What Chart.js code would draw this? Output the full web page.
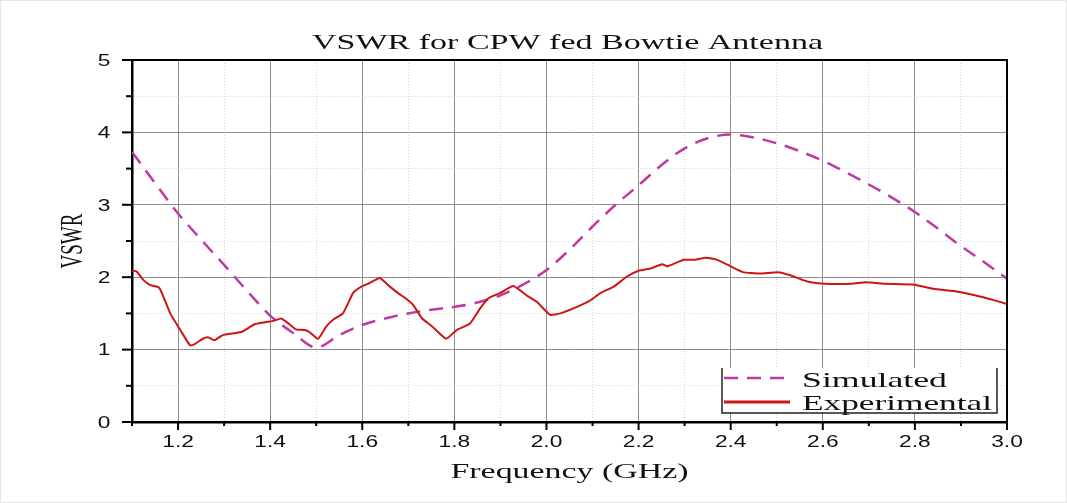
<!DOCTYPE html>
<html>
<head>
<meta charset="utf-8">
<script src="https://cdn.jsdelivr.net/npm/chart.js@4.4.0/dist/chart.umd.min.js"></script>
<style>
  html, body { margin: 0; padding: 0; background: #fff; }
  #wrap { width: 1067px; height: 503px; position: relative; }
</style>
</head>
<body>
<div id="wrap"><canvas id="vswr"></canvas></div>
<script>
// Donnees
const simFreq = [1.10, 1.15, 1.20, 1.25, 1.30, 1.35, 1.40, 1.45, 1.50, 1.55, 1.60, 1.65, 1.70, 1.75, 1.80,
    1.85, 1.90, 1.95, 2.00, 2.05, 2.10, 2.15, 2.20, 2.25, 2.30, 2.35, 2.40, 2.45, 2.50, 2.55, 2.60,
    2.65, 2.70, 2.75, 2.80, 2.85, 2.90, 2.95, 3.00];
const simVswr = [3.73, 3.30, 2.88, 2.52, 2.17, 1.81, 1.47, 1.23, 1.03, 1.20, 1.34, 1.43, 1.50, 1.55, 1.59,
    1.65, 1.75, 1.90, 2.10, 2.38, 2.70, 3.00, 3.27, 3.55, 3.78, 3.92, 3.97, 3.93, 3.85, 3.74, 3.61,
    3.45, 3.28, 3.10, 2.90, 2.67, 2.43, 2.21, 1.98];

const expFreq = [1.100, 1.110, 1.125, 1.140, 1.158, 1.165, 1.183, 1.205, 1.226, 1.237, 1.254, 1.265, 1.279,
    1.297, 1.326, 1.340, 1.366, 1.391, 1.409, 1.424, 1.442, 1.456, 1.475, 1.486, 1.504, 1.522, 1.536,
    1.558, 1.580, 1.598, 1.616, 1.638, 1.660, 1.680, 1.696, 1.710, 1.730, 1.750, 1.782, 1.805, 1.834,
    1.856, 1.874, 1.899, 1.928, 1.957, 1.979, 2.008, 2.030, 2.066, 2.095, 2.117, 2.146, 2.175, 2.200,
    2.226, 2.251, 2.262, 2.298, 2.320, 2.346, 2.371, 2.400, 2.427, 2.463, 2.503, 2.528, 2.557, 2.574,
    2.604, 2.663, 2.693, 2.737, 2.796, 2.840, 2.885, 2.930, 2.973, 3.000];
const expVswr = [2.09, 2.08, 1.96, 1.89, 1.86, 1.78, 1.50, 1.27, 1.06, 1.08, 1.15, 1.17, 1.13,
    1.20, 1.23, 1.25, 1.35, 1.38, 1.40, 1.43, 1.35, 1.28, 1.27, 1.24, 1.15, 1.32, 1.41,
    1.50, 1.78, 1.87, 1.92, 1.99, 1.87, 1.77, 1.70, 1.62, 1.43, 1.33, 1.15, 1.27, 1.36,
    1.57, 1.71, 1.78, 1.88, 1.75, 1.66, 1.48, 1.50, 1.59, 1.68, 1.78, 1.87, 2.01, 2.09,
    2.12, 2.18, 2.15, 2.24, 2.24, 2.27, 2.24, 2.15, 2.07, 2.05, 2.07, 2.03, 1.96, 1.93,
    1.91, 1.91, 1.93, 1.91, 1.90, 1.84, 1.81, 1.75, 1.68, 1.63];

const xTicks = [1.1, 1.2, 1.3, 1.4, 1.5, 1.6, 1.7, 1.8, 1.9, 2.0, 2.1, 2.2, 2.3, 2.4, 2.5, 2.6, 2.7, 2.8, 2.9, 3.0];
const yTicks = [0, 0.5, 1, 1.5, 2, 2.5, 3, 3.5, 4, 4.5, 5];

const titre = 'VSWR for CPW fed Bowtie Antenna';
const titreX = 'Frequency (GHz)';
const titreY = 'VSWR';

const couleurSim = '#c0399e';
const couleurExp = '#cc1616';

const estMajeurX = v => Math.round(v * 10) % 2 === 0;
const estMajeurY = v => Number.isInteger(v);

// texte etire horizontalement comme sur l'image d'origine
function texteEtire(ctx, txt, x, y, police, sx, align) {
    ctx.save();
    ctx.font = police;
    ctx.fillStyle = '#111';
    ctx.textAlign = align;
    ctx.textBaseline = 'alphabetic';
    ctx.translate(x, y);
    ctx.scale(sx, 1);
    ctx.fillText(txt, 0, 0);
    ctx.restore();
}

function texteLargeur(ctx, txt, cx, y, police, largeur) {
    ctx.save();
    ctx.font = police;
    const w = ctx.measureText(txt).width;
    ctx.restore();
    texteEtire(ctx, txt, cx, y, police, largeur / w, 'center');
}

const habillage = {
    id: 'habillage',
    beforeDraw(chart) {
        const ctx = chart.ctx;
        ctx.save();
        ctx.fillStyle = '#fff';
        ctx.fillRect(0, 0, chart.width, chart.height);
        ctx.strokeStyle = '#e6e6e6';
        ctx.lineWidth = 1;
        ctx.strokeRect(0.5, 0.5, chart.width - 1, chart.height - 1);
        ctx.restore();
    },
    afterDraw(chart) {
        const ctx = chart.ctx;
        const a = chart.chartArea;
        const sx = chart.scales.x, sy = chart.scales.y;

        // cadre haut et droit
        ctx.save();
        ctx.strokeStyle = '#000';
        ctx.lineWidth = 2;
        ctx.beginPath();
        ctx.moveTo(a.left, a.top);
        ctx.lineTo(a.right, a.top);
        ctx.lineTo(a.right, a.bottom);
        ctx.stroke();

        // graduations
        ctx.lineWidth = 2;
        sx.ticks.forEach(t => {
            const px = sx.getPixelForValue(t.value);
            const len = estMajeurX(t.value) ? 8 : 4;
            ctx.beginPath();
            ctx.moveTo(px, a.bottom);
            ctx.lineTo(px, a.bottom + len);
            ctx.stroke();
        });
        sy.ticks.forEach(t => {
            const py = sy.getPixelForValue(t.value);
            const len = estMajeurY(t.value) ? 10 : 6;
            ctx.beginPath();
            ctx.moveTo(a.left, py);
            ctx.lineTo(a.left - len, py);
            ctx.stroke();
        });
        ctx.restore();

        // etiquettes
        const policeTick = '16px "Liberation Sans"';
        sx.ticks.forEach(t => {
            if (!estMajeurX(t.value)) return;
            texteEtire(ctx, t.value.toFixed(1), sx.getPixelForValue(t.value), 446.5, policeTick, 1.42, 'center');
        });
        sy.ticks.forEach(t => {
            if (!estMajeurY(t.value)) return;
            texteEtire(ctx, String(t.value), 110.5, sy.getPixelForValue(t.value) + 5.8, policeTick, 1.42, 'right');
        });

        // titres
        texteLargeur(ctx, titre, (a.left + a.right) / 2 - 2, 49, '21px "Liberation Serif"', 511);
        texteLargeur(ctx, titreX, (a.left + a.right) / 2, 478, '20px "Liberation Serif"', 238);

        ctx.save();
        ctx.font = '19px "Liberation Serif"';
        const wY = ctx.measureText(titreY).width;
        ctx.fillStyle = '#111';
        ctx.textAlign = 'center';
        ctx.translate(81.5, (a.top + a.bottom) / 2);
        ctx.rotate(-Math.PI / 2);
        ctx.scale(55 / wY, 1.65);
        ctx.fillText(titreY, 0, 0);
        ctx.restore();

        // legende
        const lg = { l: 722, r: 997, t: 368, b: 413 };
        ctx.save();
        ctx.fillStyle = '#fff';
        ctx.fillRect(lg.l, lg.t, lg.r - lg.l, lg.b - lg.t);
        ctx.strokeStyle = '#222';
        ctx.lineWidth = 1.5;
        ctx.beginPath();
        ctx.moveTo(lg.l, lg.t);
        ctx.lineTo(lg.l, lg.b);
        ctx.lineTo(lg.r, lg.b);
        ctx.lineTo(lg.r, lg.t);
        ctx.stroke();

        const ds = chart.data.datasets;
        ctx.lineWidth = ds[0].borderWidth;
        ctx.strokeStyle = ds[0].borderColor;
        ctx.setLineDash(ds[0].borderDash);
        ctx.beginPath();
        ctx.moveTo(lg.l + 2, 378);
        ctx.lineTo(lg.l + 68, 378);
        ctx.stroke();
        ctx.setLineDash([]);
        ctx.lineWidth = 3;
        ctx.strokeStyle = ds[1].borderColor;
        ctx.beginPath();
        ctx.moveTo(lg.l + 2, 402);
        ctx.lineTo(lg.l + 68, 402);
        ctx.stroke();
        ctx.restore();

        ctx.save();
        ctx.font = '22px "Liberation Serif"';
        const w1 = ctx.measureText(ds[0].label).width;
        const w2 = ctx.measureText(ds[1].label).width;
        ctx.restore();
        texteEtire(ctx, ds[0].label, 802, 387, '22px "Liberation Serif"', 145 / w1, 'left');
        texteEtire(ctx, ds[1].label, 802, 409.5, '22px "Liberation Serif"', 190 / w2, 'left');
    }
};

new Chart(document.getElementById('vswr'), {
    type: 'line',
    data: {
        datasets: [{
            label: 'Simulated',
            data: simFreq.map((f, i) => ({ x: f, y: simVswr[i] })),
            borderColor: couleurSim,
            borderWidth: 2.5,
            borderDash: [14, 9],
            pointRadius: 0,
            tension: 0.4,
            cubicInterpolationMode: 'monotone',
            order: 2
        }, {
            label: 'Experimental',
            data: expFreq.map((f, i) => ({ x: f, y: expVswr[i] })),
            borderColor: couleurExp,
            borderWidth: 2,
            pointRadius: 0,
            tension: 0.15,
            order: 1
        }]
    },
    options: {
        responsive: true,
        maintainAspectRatio: false,
        animation: false,
        layout: { padding: { left: 0, top: 60, right: 60, bottom: 0 } },
        plugins: {
            legend: { display: false },
            title: { display: false },
            tooltip: { enabled: false }
        },
        scales: {
            x: {
                type: 'linear',
                min: 1.1,
                max: 3.0,
                afterBuildTicks: s => { s.ticks = xTicks.map(v => ({ value: v })); },
                afterFit: s => { s.height = 81; },
                ticks: { display: false },
                grid: {
                    drawTicks: false,
                    color: c => c.tick && estMajeurX(c.tick.value) ? '#8f8f8f' : '#cfcfcf',
                    lineWidth: 1
                },
                border: {
                    color: '#000',
                    width: 2.5,
                    dash: c => (c.tick && !estMajeurX(c.tick.value)) ? [1, 2] : []
                }
            },
            y: {
                type: 'linear',
                min: 0,
                max: 5,
                afterBuildTicks: s => { s.ticks = yTicks.map(v => ({ value: v })); },
                afterFit: s => { s.width = 132; },
                ticks: { display: false },
                grid: {
                    drawTicks: false,
                    color: c => c.tick && estMajeurY(c.tick.value) ? '#8f8f8f' : '#d6d6d6',
                    lineWidth: 1
                },
                border: {
                    color: '#000',
                    width: 2.5,
                    dash: c => (c.tick && !estMajeurY(c.tick.value)) ? [1, 2] : []
                }
            }
        }
    },
    plugins: [habillage]
});
</script>
</body>
</html>
